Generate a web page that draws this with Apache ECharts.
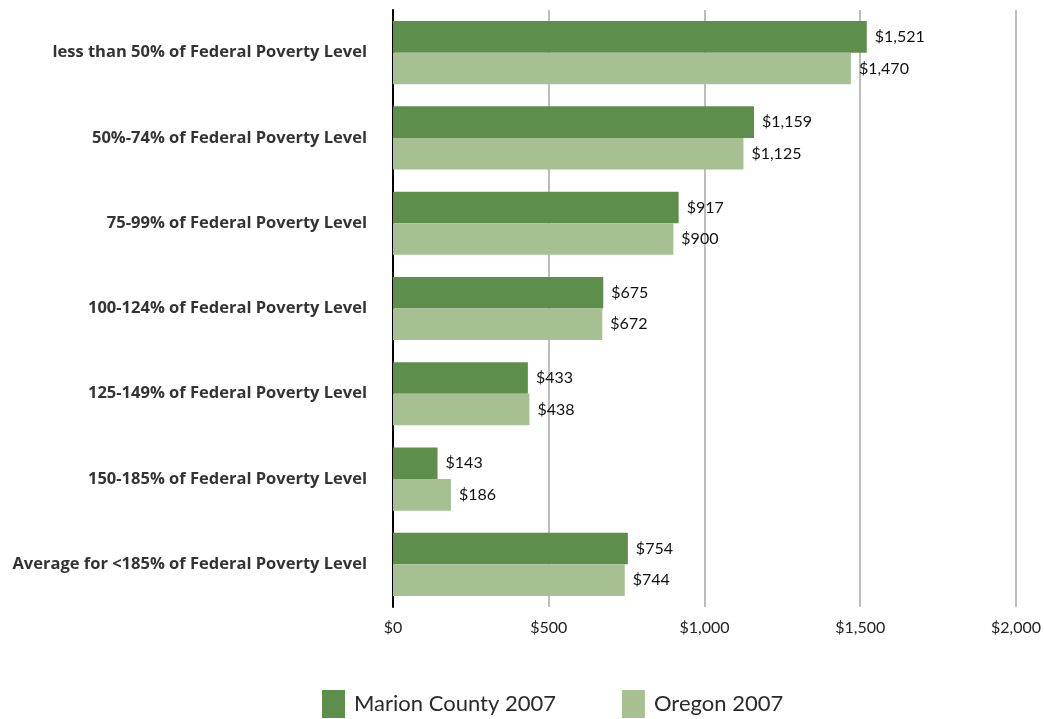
<!DOCTYPE html>
<html>
<head>
<meta charset="utf-8">
<style>
  html, body { margin: 0; padding: 0; background: #fff; }
  #chart { width: 1044px; height: 719px; }
</style>
<script src="https://cdn.jsdelivr.net/npm/echarts@6/dist/echarts.min.js"></script>
</head>
<body>
<div id="chart"></div>
<script>
// Income brackets, top to bottom
const categories = [
  'less than 50% of Federal Poverty Level',
  '50%-74% of Federal Poverty Level',
  '75-99% of Federal Poverty Level',
  '100-124% of Federal Poverty Level',
  '125-149% of Federal Poverty Level',
  '150-185% of Federal Poverty Level',
  'Average for <185% of Federal Poverty Level'
];
const marionValues = [1521, 1159, 917, 675, 433, 143, 754];
const oregonValues = [1470, 1125, 900, 672, 438, 186, 744];
const seriesNames = ['Marion County 2007', 'Oregon 2007'];

const FONT = 'Lato, "DejaVu Sans", sans-serif';
const LABEL_FONT = '"Open Sans", Lato, sans-serif';
const money = v => '$' + v.toLocaleString('en-US');

const chart = echarts.init(document.getElementById('chart'), null, { renderer: 'canvas' });

const valueLabel = {
  show: true,
  position: 'right',
  distance: 8,
  color: '#111',
  fontFamily: FONT,
  fontSize: 16,
  formatter: p => money(p.value)
};

chart.setOption({
  animation: false,
  color: ['#5e8e4b', '#a6c092'],
  grid: { left: 393, right: 27, top: 10, height: 597, containLabel: false },
  legend: {
    data: seriesNames,
    bottom: -4,
    left: 317,
    itemWidth: 23,
    itemHeight: 28,
    itemGap: 66,
    icon: 'rect',
    textStyle: { fontFamily: FONT, fontSize: 22, color: '#2a2a2a', padding: [0, 0, 0, 4] }
  },
  xAxis: {
    type: 'value',
    min: 0,
    max: 2000,
    interval: 500,
    axisLine: { show: false },
    axisTick: { show: false },
    splitLine: { show: true, lineStyle: { color: '#bdbdbd', width: 2 } },
    axisLabel: {
      fontFamily: FONT, fontSize: 16, color: '#222', margin: 13,
      formatter: v => money(v)
    }
  },
  yAxis: {
    type: 'category',
    data: categories,
    inverse: true,
    axisLine: { show: true, onZero: false, lineStyle: { color: '#000', width: 2 } },
    axisTick: { show: false },
    axisLabel: {
      fontFamily: LABEL_FONT, fontSize: 16.5, fontWeight: 'bold', color: '#333', margin: 26
    }
  },
  series: [
    {
      name: seriesNames[0],
      type: 'bar',
      data: marionValues,
      barGap: '0%',
      barCategoryGap: '26%',
      label: valueLabel
    },
    {
      name: seriesNames[1],
      type: 'bar',
      data: oregonValues,
      barGap: '0%',
      barCategoryGap: '26%',
      label: valueLabel
    }
  ]
});
</script>
</body>
</html>
